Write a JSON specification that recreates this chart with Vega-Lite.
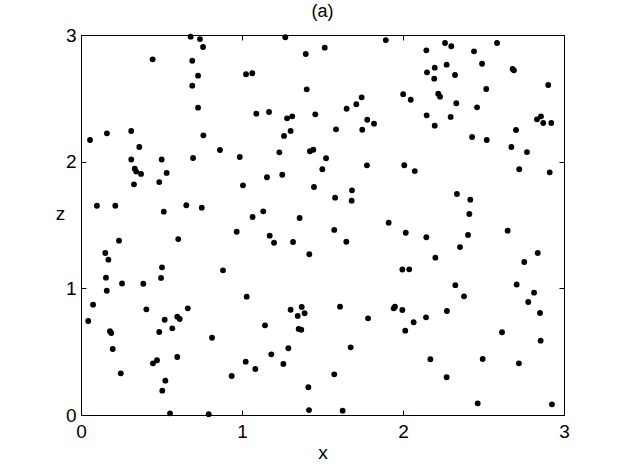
{
  "$schema": "https://vega.github.io/schema/vega-lite/v6.json",
  "width": 483,
  "height": 380,
  "autosize": {"type": "none"},
  "padding": {"left": 81, "top": 35, "right": 58, "bottom": 53},
  "background": "white",
  "title": {"text": "(a)", "font": "Liberation Sans", "fontSize": 18, "fontWeight": "normal", "color": "black", "anchor": "middle", "offset": 5},
  "config": {
    "view": {"stroke": "black", "strokeWidth": 1},
    "font": "Liberation Sans",
    "axis": {"grid": false, "domain": false, "ticks": true, "tickSize": -5, "tickColor": "black", "tickWidth": 1, "labelFlush": false, "labelColor": "black", "labelFontSize": 19, "labelFont": "Liberation Sans", "titleFont": "Liberation Sans", "titleFontSize": 19, "titleFontWeight": "normal", "titleColor": "black"}
  },
  "data": {"values": [
    {"x":0.681,"z":2.987},{"x":0.739,"z":2.968},{"x":0.758,"z":2.905},{"x":0.445,"z":2.808},{"x":0.691,"z":2.797},
    {"x":0.727,"z":2.679},{"x":0.691,"z":2.600},{"x":0.727,"z":2.426},{"x":0.312,"z":2.242},{"x":0.161,"z":2.224},
    {"x":0.056,"z":2.171},{"x":0.760,"z":2.208},{"x":0.362,"z":2.116},{"x":0.863,"z":2.092},{"x":0.312,"z":2.017},
    {"x":0.501,"z":2.017},{"x":0.696,"z":2.029},{"x":0.986,"z":2.037},
    {"x":1.269,"z":2.982},{"x":1.893,"z":2.960},{"x":1.514,"z":2.900},{"x":1.396,"z":2.850},{"x":1.025,"z":2.690},
    {"x":1.064,"z":2.698},{"x":1.402,"z":2.571},{"x":2.001,"z":2.533},{"x":1.089,"z":2.379},{"x":1.168,"z":2.392},
    {"x":1.280,"z":2.342},{"x":1.312,"z":2.358},{"x":1.455,"z":2.374},{"x":1.650,"z":2.418},{"x":1.710,"z":2.453},
    {"x":1.743,"z":2.508},{"x":1.778,"z":2.331},{"x":1.820,"z":2.300},{"x":1.584,"z":2.255},{"x":1.747,"z":2.252},
    {"x":1.302,"z":2.242},{"x":1.261,"z":2.203},{"x":1.232,"z":2.074},{"x":1.422,"z":2.082},{"x":1.443,"z":2.094},
    {"x":1.522,"z":2.027},
    {"x":2.261,"z":2.937},{"x":2.300,"z":2.911},{"x":2.584,"z":2.937},{"x":2.145,"z":2.879},{"x":2.441,"z":2.871},
    {"x":2.271,"z":2.766},{"x":2.197,"z":2.742},{"x":2.491,"z":2.773},{"x":2.149,"z":2.705},{"x":2.194,"z":2.655},
    {"x":2.323,"z":2.684},{"x":2.681,"z":2.732},{"x":2.689,"z":2.721},{"x":2.902,"z":2.605},{"x":2.048,"z":2.489},
    {"x":2.219,"z":2.537},{"x":2.230,"z":2.513},{"x":2.517,"z":2.574},{"x":2.331,"z":2.461},{"x":2.460,"z":2.429},
    {"x":2.147,"z":2.366},{"x":2.296,"z":2.353},{"x":2.197,"z":2.284},{"x":2.832,"z":2.334},{"x":2.857,"z":2.358},
    {"x":2.871,"z":2.305},{"x":2.921,"z":2.305},{"x":2.702,"z":2.250},{"x":2.429,"z":2.195},{"x":2.520,"z":2.171},
    {"x":2.673,"z":2.116},{"x":2.770,"z":2.076},
    {"x":0.334,"z":1.944},{"x":0.343,"z":1.922},{"x":0.373,"z":1.903},{"x":0.532,"z":1.911},{"x":0.486,"z":1.839},
    {"x":0.329,"z":1.821},{"x":1.006,"z":1.813},{"x":0.099,"z":1.652},{"x":0.213,"z":1.652},{"x":0.514,"z":1.605},
    {"x":0.654,"z":1.656},{"x":0.750,"z":1.637},{"x":0.967,"z":1.447},{"x":0.236,"z":1.376},{"x":0.604,"z":1.389},
    {"x":0.151,"z":1.279},{"x":0.170,"z":1.226},{"x":0.503,"z":1.166},{"x":0.882,"z":1.142},{"x":0.155,"z":1.084},
    {"x":0.255,"z":1.038},{"x":0.387,"z":1.036},{"x":0.497,"z":1.082},
    {"x":0.160,"z":0.981},{"x":0.075,"z":0.871},{"x":0.045,"z":0.742},{"x":0.180,"z":0.661},{"x":0.188,"z":0.647},
    {"x":0.197,"z":0.521},{"x":0.247,"z":0.329},{"x":0.406,"z":0.834},{"x":0.520,"z":0.752},{"x":0.486,"z":0.655},
    {"x":0.598,"z":0.776},{"x":0.613,"z":0.758},{"x":0.567,"z":0.684},{"x":0.663,"z":0.842},{"x":0.814,"z":0.610},
    {"x":0.598,"z":0.458},{"x":0.447,"z":0.408},{"x":0.472,"z":0.432},{"x":0.524,"z":0.271},{"x":0.505,"z":0.192},
    {"x":0.936,"z":0.308},{"x":0.553,"z":0.013},{"x":0.793,"z":0.006},
    {"x":1.499,"z":1.940},{"x":1.776,"z":1.971},{"x":2.008,"z":1.972},{"x":1.155,"z":1.877},{"x":1.250,"z":1.897},
    {"x":1.447,"z":1.800},{"x":1.578,"z":1.716},{"x":1.683,"z":1.774},{"x":1.681,"z":1.692},{"x":1.132,"z":1.608},
    {"x":1.066,"z":1.563},{"x":1.358,"z":1.555},{"x":1.911,"z":1.518},{"x":1.573,"z":1.461},{"x":1.172,"z":1.416},
    {"x":1.199,"z":1.360},{"x":1.317,"z":1.366},{"x":1.648,"z":1.368},{"x":1.418,"z":1.269},{"x":2.017,"z":1.439},
    {"x":1.996,"z":1.149},
    {"x":1.029,"z":0.934},{"x":1.302,"z":0.831},{"x":1.371,"z":0.853},{"x":1.346,"z":0.782},{"x":1.389,"z":0.803},
    {"x":1.609,"z":0.855},{"x":1.942,"z":0.842},{"x":1.950,"z":0.855},{"x":1.996,"z":0.829},{"x":2.014,"z":0.666},
    {"x":1.783,"z":0.763},{"x":1.143,"z":0.708},{"x":1.352,"z":0.679},{"x":1.368,"z":0.673},{"x":1.675,"z":0.534},
    {"x":1.288,"z":0.527},{"x":1.182,"z":0.479},{"x":1.257,"z":0.403},{"x":1.023,"z":0.421},{"x":1.083,"z":0.363},
    {"x":1.573,"z":0.321},{"x":1.412,"z":0.219},{"x":1.416,"z":0.039},{"x":1.625,"z":0.034},
    {"x":2.073,"z":1.926},{"x":2.722,"z":1.940},{"x":2.911,"z":1.916},{"x":2.335,"z":1.745},{"x":2.418,"z":1.700},
    {"x":2.412,"z":1.587},{"x":2.145,"z":1.403},{"x":2.404,"z":1.421},{"x":2.650,"z":1.455},{"x":2.354,"z":1.326},
    {"x":2.201,"z":1.242},{"x":2.837,"z":1.279},{"x":2.753,"z":1.208},{"x":2.039,"z":1.150},{"x":2.325,"z":1.025},
    {"x":2.706,"z":1.030},
    {"x":2.379,"z":0.937},{"x":2.814,"z":0.966},{"x":2.778,"z":0.892},{"x":2.851,"z":0.805},{"x":2.273,"z":0.821},
    {"x":2.143,"z":0.771},{"x":2.066,"z":0.732},{"x":2.615,"z":0.653},{"x":2.855,"z":0.587},{"x":2.170,"z":0.440},
    {"x":2.495,"z":0.442},{"x":2.720,"z":0.408},{"x":2.271,"z":0.298},{"x":2.464,"z":0.092},{"x":2.925,"z":0.084}
  ]},
  "layer": [
    {
      "mark": {"type": "point", "filled": true, "color": "black", "opacity": 1, "size": 34},
      "encoding": {
        "x": {"field": "x", "type": "quantitative", "scale": {"domain": [0, 3], "nice": false, "zero": false},
              "axis": {"orient": "bottom", "values": [0, 1, 2, 3], "title": "x", "labelPadding": 12, "titlePadding": 2}},
        "y": {"field": "z", "type": "quantitative", "scale": {"domain": [0, 3], "nice": false, "zero": false},
              "axis": {"orient": "left", "values": [0, 1, 2, 3], "title": "z", "titleAngle": 0, "titleX": -21, "titleY": 178, "titleBaseline": "middle", "titleAlign": "center", "labelPadding": 10}}
      }
    },
    {
      "mark": {"type": "point", "filled": true, "color": "black", "opacity": 0, "size": 34},
      "encoding": {
        "x": {"field": "x", "type": "quantitative", "axis": {"orient": "top", "values": [0, 1, 2, 3], "labels": false, "title": null}},
        "y": {"field": "z", "type": "quantitative", "axis": {"orient": "right", "values": [0, 1, 2, 3], "labels": false, "title": null}}
      }
    }
  ],
  "resolve": {"axis": {"x": "independent", "y": "independent"}}
}
